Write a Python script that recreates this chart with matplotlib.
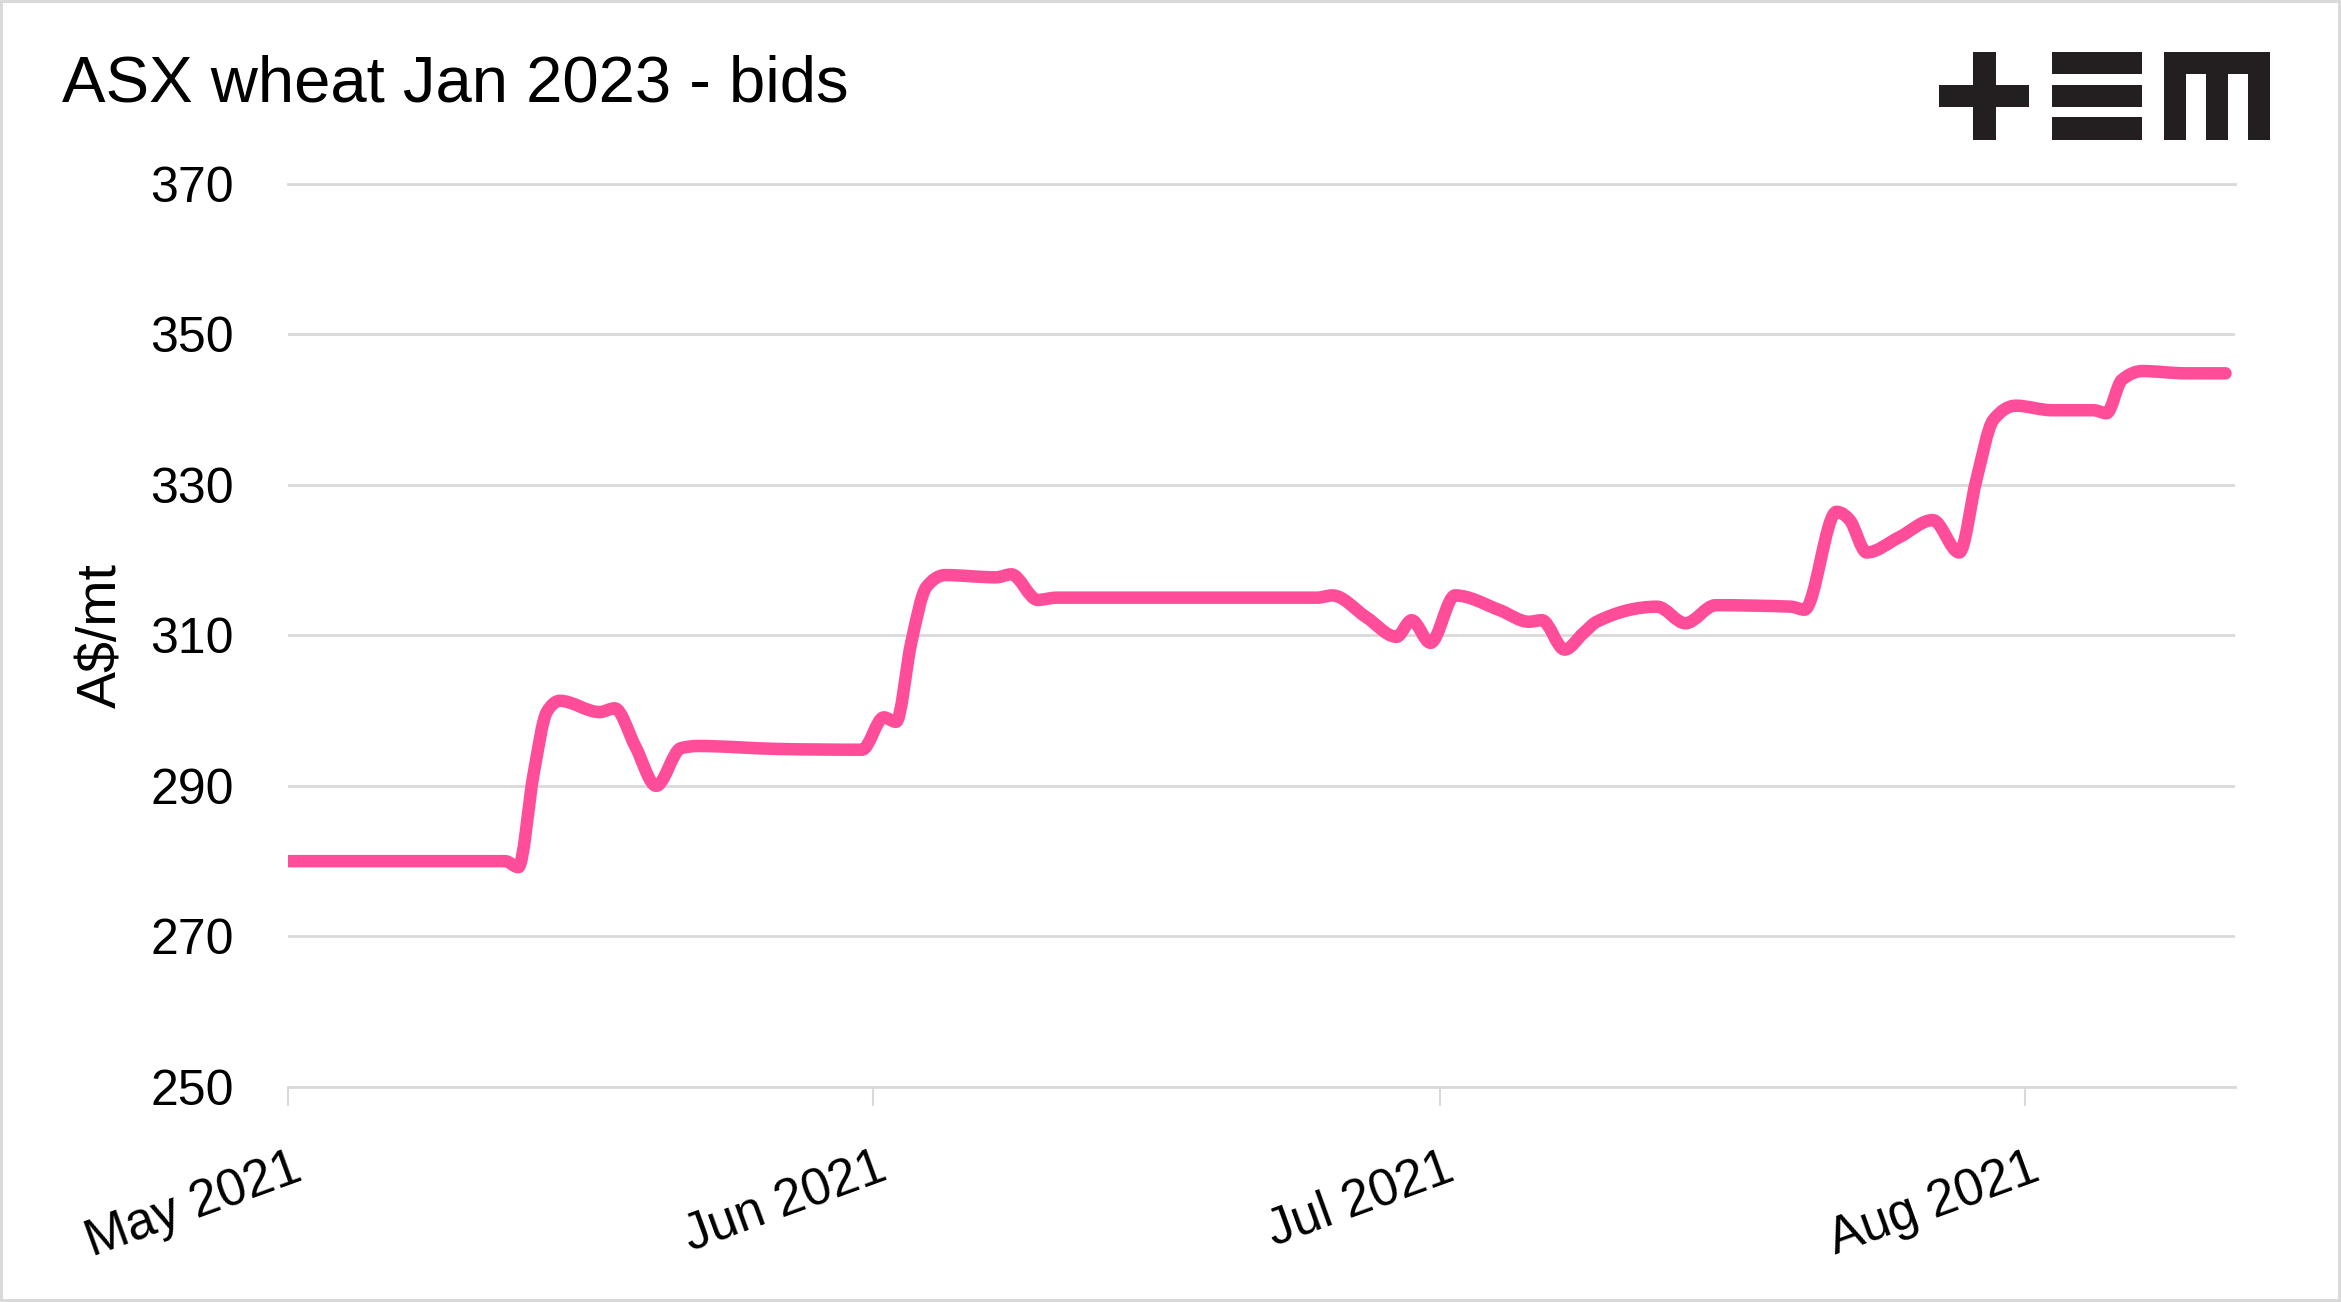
import datetime as dt

import matplotlib
matplotlib.use("Agg")
import matplotlib.pyplot as plt
import matplotlib.dates as mdates
import numpy as np
from matplotlib.path import Path
from matplotlib.patches import PathPatch, Rectangle
from matplotlib.transforms import ScaledTranslation

plt.rcParams["font.family"] = ["Liberation Sans", "DejaVu Sans"]

W, H, DPI = 2341, 1302, 100
PINK = "#ff4d9a"
GRID = "#d9d9d9"
LOGO = "#231f20"

title = "ASX wheat Jan 2023 - bids"
ylabel = "A$/mt"
start = dt.datetime(2021, 5, 1)

# days since 1 May 2021 and the bid at that point
day_offset = [0, 11.5, 12.2, 13.0, 13.7, 14.4, 16.5, 17.3, 18.4, 19.5,
              20.8, 21.7, 26.0, 30.4, 31.55, 32.2, 33.0, 33.8, 34.8, 37.5,
              38.3, 39.7, 40.7, 54.5, 55.3, 57.1, 58.7, 59.5, 60.5, 61.8,
              64.2, 65.7, 66.4, 67.6, 68.6, 69.3, 72.5, 74.0, 75.6, 79.6,
              80.3, 82.0, 82.7, 83.6, 85.3, 87.1, 88.5, 89.4, 90.3, 91.5,
              93.4, 95.6, 96.3, 97.1, 98.2, 100.5, 102.6]
bid = [280.0, 280.0, 279.2, 291.5, 299.8, 301.3, 299.8, 300.3, 295.2, 290.0,
       295.0, 295.3, 294.9, 294.8, 299.1, 298.5, 309.0, 316.4, 318.0, 317.7,
       318.1, 314.7, 315.0, 315.0, 315.3, 312.4, 309.8, 312.0, 309.0, 315.3,
       313.3, 311.8, 312.0, 308.1, 310.3, 311.8, 313.8, 311.6, 314.0, 313.8,
       313.4, 326.4, 325.3, 321.0, 323.0, 325.3, 321.0, 330.6, 338.6, 340.5,
       339.9, 339.9, 339.5, 343.9, 345.1, 344.8, 344.8]

yticks = [250, 270, 290, 310, 330, 350, 370]
month_ticks = [dt.datetime(2021, m, 1) for m in (5, 6, 7, 8)]
month_labels = ["May 2021", "Jun 2021", "Jul 2021", "Aug 2021"]


def monotone_slopes(x, y):
    """ Tangents for a monotone cubic through the points """
    n = len(x)
    t = np.zeros(n)
    for i in range(1, n - 1):
        h0 = x[i] - x[i - 1]
        h1 = x[i + 1] - x[i]
        s0 = (y[i] - y[i - 1]) / h0
        s1 = (y[i + 1] - y[i]) / h1
        p = (s0 * h1 + s1 * h0) / (h0 + h1)
        t[i] = (np.sign(s0) + np.sign(s1)) * min(abs(s0), abs(s1), 0.5 * abs(p))
    t[0] = (3 * (y[1] - y[0]) / (x[1] - x[0]) - t[1]) / 2
    t[-1] = (3 * (y[-1] - y[-2]) / (x[-1] - x[-2]) - t[-2]) / 2
    return t


def smooth_path(x, y):
    """ Bezier path through the points, in data coordinates """
    t = monotone_slopes(x, y)
    verts = [(x[0], y[0])]
    codes = [Path.MOVETO]
    for i in range(len(x) - 1):
        dx = (x[i + 1] - x[i]) / 3
        verts += [(x[i] + dx, y[i] + dx * t[i]),
                  (x[i + 1] - dx, y[i + 1] - dx * t[i + 1]),
                  (x[i + 1], y[i + 1])]
        codes += [Path.CURVE4] * 3
    return Path(verts, codes)


def px_rect(x0, y0, x1, y1, **kw):
    """ Rectangle given in figure pixels from the top left """
    return Rectangle((x0 / W, 1 - y1 / H), (x1 - x0) / W, (y1 - y0) / H,
                     transform=fig.transFigure, **kw)


fig = plt.figure(figsize=(W / DPI, H / DPI), dpi=DPI)
ax = fig.add_axes([288 / W, 1 - 1087 / H, (2235 - 288) / W, (1087 - 183.6) / H])

x0 = mdates.date2num(start)
xs = x0 + np.array(day_offset)
ys = np.array(bid)
ax.add_patch(PathPatch(smooth_path(xs, ys), fill=False, edgecolor=PINK,
                       lw=9, capstyle="round", joinstyle="round", zorder=3))

ax.set_xlim(x0, x0 + 103.1)
ax.set_ylim(250, 370)
ax.set_yticks(yticks)
ax.set_yticklabels([str(v) for v in yticks])
ax.set_xticks(mdates.date2num(month_ticks))
ax.set_xticklabels(month_labels, rotation=20, ha="right")

ax.grid(axis="y", color=GRID, lw=2)
ax.set_axisbelow(True)
for side in ("left", "right"):
    ax.spines[side].set_visible(False)
for side in ("top", "bottom"):
    ax.spines[side].set_color(GRID)
    ax.spines[side].set_linewidth(2)

ax.tick_params(axis="x", length=13.7, width=1.5, color=GRID, pad=27, labelsize=37)
ax.tick_params(axis="y", length=0, pad=39, labelsize=36)
shift = ScaledTranslation(20 / DPI, 0, fig.dpi_scale_trans)
for lab in ax.get_xticklabels():
    lab.set_transform(lab.get_transform() + shift)

ax.set_ylabel(ylabel, fontsize=40)
ax.yaxis.set_label_coords(-0.082, 0.5)

fig.text(62 / W, 1 - 102 / H, title, fontsize=47, va="baseline", ha="left")

# logo
logo = [
    (1973, 52, 1996, 140), (1939, 85, 2029, 107),
    (2052, 52, 2142, 74), (2052, 85, 2142, 107), (2052, 117, 2142, 140),
    (2164, 52, 2270, 74), (2164, 52, 2186, 140), (2206, 52, 2228, 140),
    (2248, 52, 2270, 140),
]
for r in logo:
    fig.patches.append(px_rect(*r, color=LOGO, lw=0))

fig.patches.append(Rectangle((0, 0), 1, 1, transform=fig.transFigure,
                             fill=False, edgecolor=GRID, lw=4.3))

fig.savefig("out.png", dpi=DPI)
